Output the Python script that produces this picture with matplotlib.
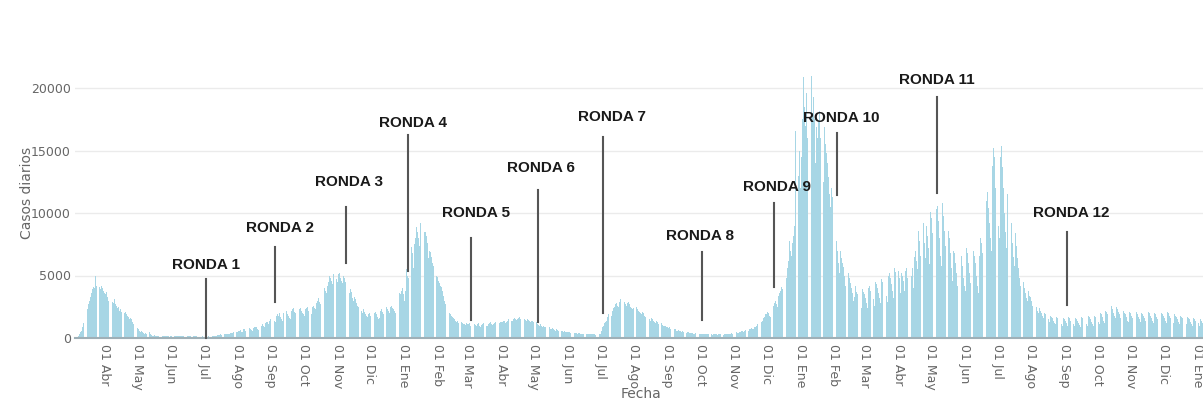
import numpy as np
import matplotlib
matplotlib.use("Agg")
import matplotlib.pyplot as plt
import matplotlib.dates as mdates

# daily cases (one row per month)
cases_2020 = [
    50, 80, 120, 200, 300, 450, 600, 900, 1200, 1500, 1900, 2300, 2700, 3000, 3300, 3600, 3900, 4100, 4000, 5000, 4200, 4300, 4100, 3900, 4200, 4000, 3800,  # mar (from 5th)
    3600, 3500, 3700, 3300, 3000, 3400, 3200, 2900, 2800, 3100, 2700, 2600, 2400, 2500, 2200, 2300, 2100, 1900, 2000, 2100, 1900, 1800, 1700, 1500, 1600, 1500, 1300, 1100, 1000, 900,  # abr
    800, 700, 600, 500, 550, 450, 400, 350, 380, 300, 250, 450, 300, 220, 200, 180, 250, 200, 180, 170, 160, 150, 170, 200, 180, 150, 160, 140, 150, 130, 120,  # may
    150, 170, 160, 180, 150, 140, 130, 160, 200, 180, 170, 160, 150, 140, 130, 150, 160, 140, 130, 120, 110, 130, 150, 140, 130, 120, 110, 100, 120, 130,  # jun
    100, 120, 150, 130, 110, 140, 160, 180, 200, 170, 150, 160, 200, 220, 250, 270, 300, 280, 260, 300, 330, 360, 350, 320, 340, 380, 400, 420, 450, 480, 500,  # jul
    500, 550, 600, 650, 500, 450, 700, 750, 600, 550, 700, 800, 750, 650, 600, 800, 850, 900, 850, 700, 650, 900, 1000, 1100, 1000, 900, 1200, 1300, 1250, 1100, 1400,  # ago
    1500, 1600, 1700, 1400, 1300, 1800, 1900, 1800, 2000, 1700, 1500, 1400, 2000, 2100, 2200, 1900, 1800, 1600, 1500, 2200, 2300, 2400, 2100, 2000, 1800, 1700, 2300, 2400, 2200, 2000,  # sep
    1900, 1800, 2300, 2400, 2500, 2200, 2000, 1900, 2500, 2600, 2400, 2300, 2800, 3000, 3200, 2900, 2700, 3500, 3800, 4000, 3800, 3600, 4200, 4500, 5000, 4800, 4600, 4300, 5100, 5000, 4700,  # oct
    4500, 5100, 5200, 4800, 4600, 4400, 5000, 4800, 4500, 4200, 3800, 3600, 3900, 3700, 3200, 3000, 3300, 3100, 2800, 2600, 2500, 2400, 2200, 2000, 2300, 2100, 1900, 1800, 1700, 1900,  # nov
    2000, 1800, 1700, 1600, 2000, 2100, 1900, 1700, 1500, 1600, 2200, 2300, 2100, 1900, 2400, 2500, 2300, 2200, 2000, 2500, 2600, 2400, 2300, 2200, 2000, 2500, 3000, 3600, 3500, 3800, 4000,  # dic
]
cases_2021 = [
    3500, 3000, 3800, 5500, 5000, 4800, 6000, 7300, 6800, 5600, 7500, 8000, 8900, 8500, 8000, 7400, 9200, 9400, 8800, 8500, 8500, 8200, 7600, 6400, 7000, 6900, 6500, 6000, 5800, 4600, 5000,  # ene
    4900, 4600, 4400, 4200, 4100, 3800, 3400, 3000, 2700, 2400, 2200, 2000, 1900, 1800, 1700, 1600, 1500, 1400, 1300, 1350, 1200, 1100, 1250, 1200, 1150, 1100, 1050, 1200,  # feb
    1150, 1100, 1200, 1000, 950, 1100, 1150, 1050, 1000, 1100, 1200, 1000, 900, 1050, 1100, 1200, 1150, 1000, 950, 1100, 1200, 1250, 1150, 1050, 1100, 1200, 1300, 1250, 1150, 1200, 1300,  # mar
    1250, 1300, 1400, 1350, 1200, 1300, 1400, 1500, 1450, 1350, 1400, 1500, 1600, 1550, 1450, 1500, 1600, 1650, 1550, 1500, 1600, 1550, 1450, 1400, 1500, 1450, 1350, 1300, 1400, 1350,  # abr
    1250, 1200, 1300, 1150, 1050, 1000, 1100, 950, 900, 1000, 900, 850, 800, 900, 850, 750, 700, 800, 750, 650, 600, 700, 650, 600, 550, 600, 550, 500, 550, 500, 450,  # may
    450, 500, 450, 400, 420, 380, 400, 420, 380, 350, 400, 380, 350, 330, 360, 340, 320, 350, 330, 300, 320, 340, 300, 290, 310, 300, 280, 300, 320, 330,  # jun
    350, 600, 900, 1000, 1200, 1300, 1400, 1700, 1900, 2000, 1800, 2200, 2400, 2500, 2700, 2800, 2600, 2500, 2900, 3100, 3000, 3200, 2900, 2700, 2600, 2800, 2900, 2700, 2500, 2400, 2300,  # jul
    2400, 2200, 2500, 2300, 2200, 2100, 2000, 1900, 2100, 2000, 1800, 1700, 1600, 1700, 1500, 1400, 1600, 1500, 1400, 1300, 1200, 1350, 1250, 1150, 1100, 1200, 1050, 1000, 950, 1000, 900,  # ago
    850, 800, 900, 750, 700, 650, 750, 700, 600, 550, 650, 600, 550, 500, 550, 500, 450, 420, 480, 450, 400, 380, 420, 400, 360, 350, 400, 380, 350, 330,  # sep
    340, 320, 300, 350, 330, 310, 290, 330, 350, 320, 300, 280, 310, 330, 300, 290, 270, 300, 320, 310, 290, 280, 300, 330, 350, 320, 310, 340, 360, 380, 350,  # oct
    370, 400, 450, 420, 400, 480, 520, 560, 540, 500, 600, 650, 620, 580, 700, 750, 800, 760, 720, 850, 900, 1000, 1100, 1200, 1150, 1300, 1400, 1600, 1700, 1900,  # nov
    1900, 2100, 2000, 1800, 1700, 2300, 2600, 2800, 3000, 2700, 2500, 3400, 3600, 3800, 4100, 3900, 4600, 4200, 4800, 5600, 6200, 7800, 7000, 6600, 7600, 8200, 9000, 16600, 14000, 13000, 15000,  # dic
]
cases_2022 = [
    12000, 14500, 17500, 20900, 18500, 17000, 19600, 16000, 15000, 22100, 21000, 18000, 19300, 17500, 14000, 16900, 16000, 17400, 18200, 16000, 13500, 12500, 16900, 15500, 14800, 14000, 12900, 11500, 10500, 12000, 11300,  # ene
    9800, 8600, 7800, 7000, 6000, 5200, 7000, 6400, 6000, 5700, 5000, 4200, 3800, 5200, 4800, 4400, 4000, 3600, 3000, 3300, 4200, 3700, 3500, 3200, 2800, 2400, 3900, 3700,  # feb
    3500, 3200, 2800, 2400, 4000, 4200, 3800, 3500, 3100, 2600, 4500, 4300, 4000, 3600, 3200, 2800, 4700, 4500, 4200, 3800, 3400, 2900, 5000, 5200, 4800, 4300, 3800, 3200, 5600, 5300, 4900,  # mar
    5400, 4800, 3600, 5200, 5000, 4600, 3800, 5400, 5600, 4800, 3900, 4200, 5000, 5600, 4000, 6500, 7000, 6200, 5500, 8600, 7800, 6600, 9800, 9200, 7600, 6400, 9000, 8200, 7200, 5900,  # abr
    10100, 9600, 8400, 7000, 6200, 10300, 10600, 9400, 8000, 6600, 5800, 10800, 9800, 8600, 7400, 6200, 8600, 8000, 6800, 5600, 4600, 7000, 6800, 6000, 5200, 4200, 3600, 7000, 6600, 5800, 4800,  # may
    4200, 3800, 7200, 6800, 6000, 5200, 4400, 3800, 7000, 6600, 6000, 5000, 4200, 3600, 6600, 8000, 7600, 6800, 5800, 4800, 11000, 11700, 10400, 9200, 8000, 7000, 13800, 15200, 14500, 12000,  # jun
    10500, 9000, 8000, 14500, 15400, 13700, 12000, 10000, 8500, 7200, 11500, 10800, 10000, 9200, 7600, 6500, 5800, 8400, 7400, 6400, 5600, 4800, 4200, 5200, 4500, 4000, 3600, 3200, 3000, 3800, 3400,  # jul
    3300, 3000, 2600, 2400, 2800, 2500, 2200, 2000, 2400, 2200, 2000, 1800, 1600, 2000, 1900, 1700, 1500, 1300, 1800, 1700, 1600, 1400, 1200, 1100, 1700, 1600, 1500, 1300, 1100, 1000, 1600,  # ago
    1500, 1400, 1200, 1000, 1700, 1600, 1400, 1300, 1100, 950, 1600, 1500, 1400, 1200, 1050, 900, 1700, 1600, 1500, 1300, 1100, 1000, 1800, 1700, 1500, 1300, 1100, 1000, 1800, 1700,  # sep
    1500, 1300, 1100, 2000, 1900, 1700, 1400, 1200, 2200, 2100, 1900, 1700, 2400, 2600, 2300, 2000, 1800, 1600, 2500, 2300, 2100, 1900, 1600, 1400, 2200, 2000, 1900, 1700, 1400, 1300, 2100,  # oct
    2000, 1800, 1600, 1400, 2200, 2100, 1900, 1700, 1500, 1300, 2000, 1900, 1800, 1600, 1400, 1300, 2100, 2000, 1800, 1600, 1400, 1200, 2000, 1900, 1700, 1500, 1300, 1200, 2000, 1900,  # nov
    1800, 1600, 1400, 1200, 2100, 2000, 1800, 1600, 1400, 1200, 1900, 1800, 1700, 1500, 1300, 1100, 1800, 1700, 1600, 1400, 1200, 1100, 1700, 1600, 1500, 1300, 1100, 1000, 1600, 1500, 1400,  # dic
]
cases_2023 = [1300, 1200, 1000, 1500, 1400, 1200]

month_names = ["Abr", "May", "Jun", "Jul", "Ago", "Sep", "Oct", "Nov", "Dic",
               "Ene", "Feb", "Mar", "Abr", "May", "Jun", "Jul", "Ago", "Sep", "Oct", "Nov", "Dic",
               "Ene", "Feb", "Mar", "Abr", "May", "Jun", "Jul", "Ago", "Sep", "Oct", "Nov", "Dic",
               "Ene"]

# survey rounds: date of the marker, line top/bottom and label height (cases)
ronda_names = ["RONDA %d" % i for i in range(1, 13)]
ronda_dates = ["2020-07-03", "2020-09-05", "2020-11-09", "2021-01-05", "2021-03-04", "2021-05-05",
               "2021-07-04", "2021-10-03", "2021-12-08", "2022-02-04", "2022-05-07", "2022-09-03"]
ronda_top = [4720, 7280, 10480, 16240, 8000, 11840, 16080, 6880, 10800, 16400, 19280, 8480]
ronda_bottom = [0, 2880, 6000, 5360, 1440, 1280, 2000, 1440, 4080, 11440, 11600, 2640]
ronda_label_y = [5840, 8800, 12480, 17200, 10000, 13600, 17680, 8160, 12080, 17600, 20640, 10000]
ronda_label_shift = [0, 4, 3, 5, 5, 2, 8, -2, 3, 4, 0, 4]  # days

cases = np.array(cases_2020 + cases_2021 + cases_2022 + cases_2023)
days = np.datetime64("2020-03-05") + np.arange(len(cases))

fig = plt.figure(figsize=(12.03, 4.01), dpi=100)
ax = fig.add_axes([75 / 1203, 63 / 401, 1128 / 1203, 287.5 / 401])

ax.bar(days, cases, width=0.8, color="#a7d6e5", linewidth=0, zorder=2)

ax.set_xlim(mdates.date2num(np.datetime64("2020-03-04T20")),
            mdates.date2num(np.datetime64("2023-01-06T12")))
ax.set_ylim(0, 23000)

ax.set_yticks([0, 5000, 10000, 15000, 20000])
ax.set_yticklabels(["0", "5000", "10000", "15000", "20000"])
ax.grid(axis="y", color="#ebebeb", lw=1, zorder=0)
ax.set_axisbelow(True)

ticks = np.arange(np.datetime64("2020-04"), np.datetime64("2023-02"), dtype="datetime64[M]").astype("datetime64[D]")
ax.set_xticks(ticks)
ax.set_xticklabels(["01 " + m for m in month_names], rotation=-90, va="top", ha="center")

ax.tick_params(axis="both", length=0, labelsize=9, labelcolor="#666666")
ax.tick_params(axis="y", pad=3)
ax.tick_params(axis="x", pad=4)

for s in ["top", "right", "left"]:
    ax.spines[s].set_visible(False)
ax.spines["bottom"].set_color("#9fb0b7")
ax.spines["bottom"].set_linewidth(1.5)

for name, d, top, bot, ly, sh in zip(ronda_names, ronda_dates, ronda_top, ronda_bottom,
                                     ronda_label_y, ronda_label_shift):
    x = np.datetime64(d)
    ax.plot([x, x], [bot, top], color="#555555", lw=1.5, zorder=3, clip_on=False)
    ax.text(x + np.timedelta64(sh, "D"), ly, name, ha="center", va="center",
            fontsize=11, fontweight="bold", family="Liberation Sans", color="#1a1a1a", zorder=4)

fig.text(27 / 1203, 1 - 193 / 401, "Casos diarios", rotation=90, ha="center", va="center",
         fontsize=10, color="#666666")
fig.text(641 / 1203, 1 - 394 / 401, "Fecha", ha="center", va="center", fontsize=10, color="#666666")

fig.savefig("out.png", dpi=100)
